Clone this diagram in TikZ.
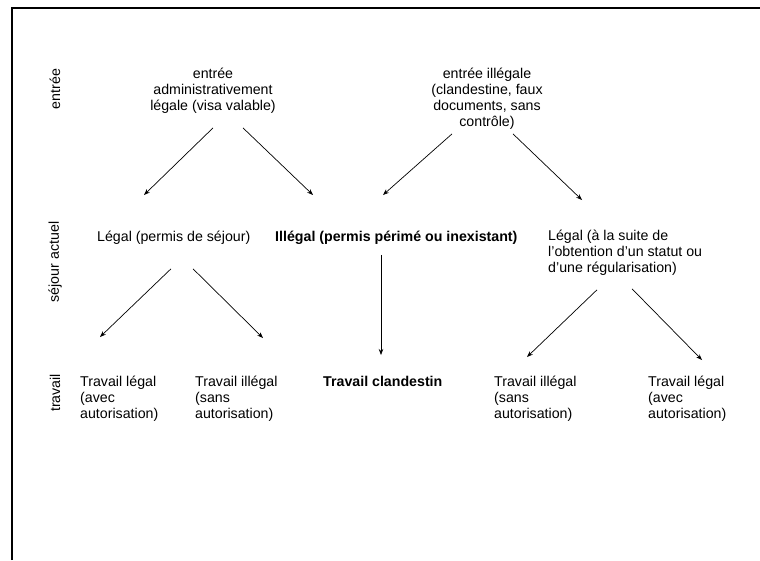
\documentclass[tikz,border=0pt]{standalone}
\usepackage{fontspec}
\setmainfont{Liberation Sans}
\usetikzlibrary{positioning,arrows.meta}

\begin{document}
\begin{tikzpicture}[
    x=1pt, y=-1pt,
    txt/.style={inner sep=0pt, font=\fontsize{14.2}{16}\selectfont},
    lvl/.style={txt, rotate=90},
    arrow/.style={-{Stealth[length=6pt,width=4.5pt]}, line width=0.7pt},
    >=Stealth
]
\useasboundingbox (0,0) rectangle (760,560);

% frame
\draw[line width=1.2pt] (12,560) -- (12,8) -- (760,8);

% level labels (left side)
\node[lvl] (Lentree) at (55,89) {entrée};
\node[lvl] (Lsejour) at (55,262) {séjour actuel};
\node[lvl] (Ltravail) at (55,393) {travail};

% entry
\node[txt, align=center] (E1) at (213,91) {entrée\\administrativement\\légale (visa valable)};
\node[txt, align=center] (E2) at (487,99) {entrée illégale\\(clandestine, faux\\documents, sans\\contrôle)};

% current stay
\node[txt, anchor=north west] (S1) at (97,231) {Légal (permis de séjour)};
\node[txt, anchor=north west, font=\fontsize{14.2}{16}\selectfont\bfseries] (S2) at (275,231) {Illégal (permis périmé ou inexistant)};
\node[txt, anchor=north west, align=left] (S3) at (548,230) {Légal (à la suite de\\l'obtention d'un statut ou\\d'une régularisation)};

% work
\node[txt, anchor=north west, align=left] (W1) at (80,376) {Travail légal\\(avec\\autorisation)};
\node[txt, anchor=north west, align=left] (W2) at (195,376) {Travail illégal\\(sans\\autorisation)};
\node[txt, anchor=north west, font=\fontsize{14.2}{16}\selectfont\bfseries] (W3) at (323,376) {Travail clandestin};
\node[txt, anchor=north west, align=left] (W4) at (494,376) {Travail illégal\\(sans\\autorisation)};
\node[txt, anchor=north west, align=left] (W5) at (648,376) {Travail légal\\(avec\\autorisation)};

% entry -> stay
\draw[arrow] ([yshift=-14]E1.south) -- ([xshift=47,yshift=36]S1.north west);
\draw[arrow] ([xshift=30,yshift=-14]E1.south) -- ([xshift=38,yshift=36]S2.north west);
\draw[arrow] ([xshift=-35,yshift=-4]E2.south) -- ([xshift=108,yshift=36]S2.north west);
\draw[arrow] ([xshift=26,yshift=-4]E2.south) -- ([xshift=34,yshift=30]S3.north west);

% stay -> work
\draw[arrow] ([xshift=74,yshift=-24]S1.south west) -- ([xshift=20,yshift=39]W1.north west);
\draw[arrow] ([xshift=96,yshift=-24]S1.south west) -- ([xshift=68,yshift=38]W2.north west);
\draw[arrow] ([xshift=106,yshift=-10]S2.south west) -- ([xshift=58,yshift=21]W3.north west);
\draw[arrow] ([xshift=49,yshift=-14]S3.south west) -- ([xshift=33,yshift=19]W4.north west);
\draw[arrow] ([xshift=84,yshift=-13]S3.south west) -- ([xshift=54,yshift=16]W5.north west);

\end{tikzpicture}
\end{document}
